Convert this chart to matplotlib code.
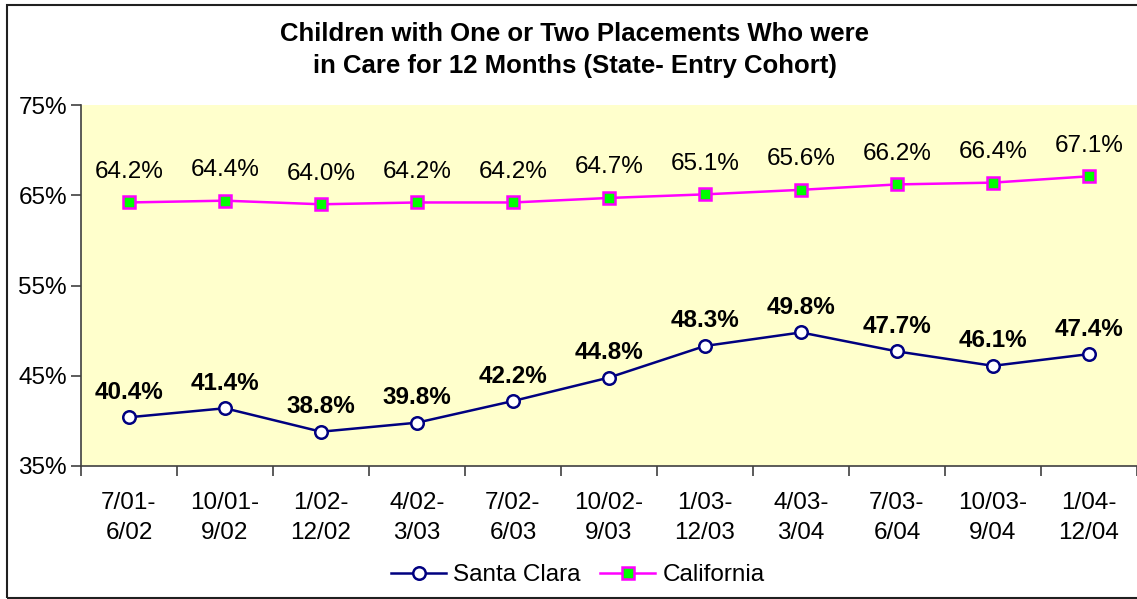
import matplotlib.pyplot as plt
from matplotlib.patches import Rectangle
from matplotlib.ticker import FixedLocator, NullFormatter

periods = ["7/01-\n6/02", "10/01-\n9/02", "1/02-\n12/02", "4/02-\n3/03",
           "7/02-\n6/03", "10/02-\n9/03", "1/03-\n12/03", "4/03-\n3/04",
           "7/03-\n6/04", "10/03-\n9/04", "1/04-\n12/04"]
santa_clara = [40.4, 41.4, 38.8, 39.8, 42.2, 44.8, 48.3, 49.8, 47.7, 46.1, 47.4]
california = [64.2, 64.4, 64.0, 64.2, 64.2, 64.7, 65.1, 65.6, 66.2, 66.4, 67.1]
y_ticks = [35, 45, 55, 65, 75]

plt.rcParams['font.family'] = ['Liberation Sans', 'DejaVu Sans']

fig = plt.figure(figsize=(11.37, 5.99), dpi=100)
ax = fig.add_axes([81 / 1137, 1 - 466 / 599, 1 - 81 / 1137, (466 - 105) / 599])
ax.set_facecolor('#FFFFCC')

x = list(range(len(periods)))
ax.plot(x, santa_clara, color='#000080', lw=1.8, marker='o', ms=9,
        mfc='white', mec='#000080', mew=1.8, label='Santa Clara', zorder=3)
ax.plot(x, california, color='#FF00FF', lw=1.8, marker='s', ms=8.5,
        mfc='#00FF00', mec='#FF00FF', mew=1.8, label='California', zorder=3)

# etiketten boven de punten
for i, v in enumerate(santa_clara):
    ax.annotate(f"{v:.1f}%", (i, v), xytext=(0, 18), textcoords='offset points',
                ha='center', va='center', fontsize=17.5, fontweight='bold')
for i, v in enumerate(california):
    ax.annotate(f"{v:.1f}%", (i, v), xytext=(0, 22), textcoords='offset points',
                ha='center', va='center', fontsize=17.5)

ax.set_xlim(-0.5, len(periods) - 0.5)
ax.set_ylim(35, 75)
ax.set_yticks(y_ticks)
ax.set_yticklabels([f"{t}%" for t in y_ticks], fontsize=17.5)
ax.xaxis.set_major_locator(FixedLocator([i - 0.5 for i in range(len(periods) + 1)]))
ax.xaxis.set_major_formatter(NullFormatter())
ax.xaxis.set_minor_locator(FixedLocator(x))
ax.set_xticklabels(periods, minor=True, fontsize=17.5, linespacing=1.45)
ax.tick_params(axis='x', which='minor', length=0, pad=19)
ax.tick_params(axis='both', which='major', length=7, color='#404040', width=1.2)
ax.tick_params(axis='y', pad=3)

for s in ['top', 'right']:
    ax.spines[s].set_visible(False)
for s in ['left', 'bottom']:
    ax.spines[s].set_color('#404040')
    ax.spines[s].set_linewidth(1.2)

fig.text(575 / 1137, 1 - 50 / 599,
         "Children with One or Two Placements Who were\nin Care for 12 Months (State- Entry Cohort)",
         ha='center', va='center', fontsize=18.5, fontweight='bold', linespacing=1.4)

leg = fig.legend(loc='center', bbox_to_anchor=(578 / 1137, 1 - 575 / 599), ncol=2,
                 frameon=False, fontsize=17.5, handlelength=2.25, handletextpad=0.3,
                 columnspacing=0.8, borderaxespad=0)

# kader rond de figuur
fig.patches.append(Rectangle((7 / 1137, 0.001), 1.2, 1 - 5 / 599 - 0.001,
                             transform=fig.transFigure, fill=False,
                             edgecolor='#202020', lw=1.5))

fig.savefig('out.png', dpi=100)
